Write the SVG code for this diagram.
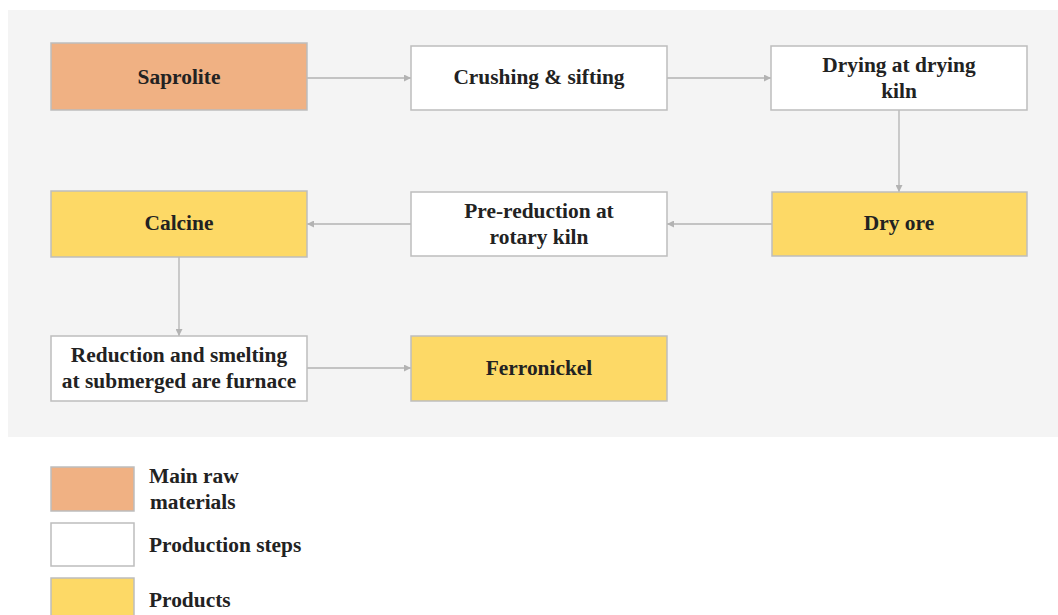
<svg xmlns="http://www.w3.org/2000/svg" width="1058" height="615" viewBox="0 0 1058 615">
<style>
.box{stroke:#bdbdbd;stroke-width:1.5}
.raw{fill:#f0b183}
.step{fill:#ffffff}
.prod{fill:#fdd966}
.t{font-family:"Liberation Serif","Times New Roman",serif;font-weight:bold;font-size:21.4px;fill:#222222;text-anchor:middle}
.lt{font-family:"Liberation Serif","Times New Roman",serif;font-weight:bold;font-size:21.4px;fill:#222222}
.c{stroke:#b3b3b3;stroke-width:1.3;fill:none;marker-end:url(#ah)}
</style>
<defs>
<marker id="ah" viewBox="0 0 10 10" refX="10" refY="5" markerWidth="7" markerHeight="7" markerUnits="userSpaceOnUse" orient="auto">
<path d="M0,0 L10,5 L0,10 z" fill="#b3b3b3"/>
</marker>
</defs>
<rect x="8" y="10" width="1050" height="427" fill="#f4f4f4"/>
<g id="connectors">
<line class="c" x1="307" y1="78" x2="411" y2="78"/>
<line class="c" x1="667" y1="78" x2="771" y2="78"/>
<line class="c" x1="899" y1="110" x2="899" y2="192"/>
<line class="c" x1="772" y1="224" x2="667" y2="224"/>
<line class="c" x1="411" y1="224" x2="307" y2="224"/>
<line class="c" x1="179" y1="257" x2="179" y2="336"/>
<line class="c" x1="307" y1="368" x2="411" y2="368"/>
</g>
<g id="saprolite"><rect class="box raw" x="51" y="43" width="256" height="67"/><text class="t" x="179" y="84">Saprolite</text></g>
<g id="crushing"><rect class="box step" x="411" y="46" width="256" height="64"/><text class="t" x="539" y="84">Crushing &amp; sifting</text></g>
<g id="drying"><rect class="box step" x="771" y="46" width="256" height="64"/><text class="t" x="899" y="72">Drying at drying</text><text class="t" x="899" y="98">kiln</text></g>
<g id="dryore"><rect class="box prod" x="772" y="192" width="255" height="64"/><text class="t" x="899" y="230">Dry ore</text></g>
<g id="prereduction"><rect class="box step" x="411" y="192" width="256" height="64"/><text class="t" x="539" y="218">Pre-reduction at</text><text class="t" x="539" y="244">rotary kiln</text></g>
<g id="calcine"><rect class="box prod" x="51" y="191" width="256" height="66"/><text class="t" x="179" y="230">Calcine</text></g>
<g id="reduction"><rect class="box step" x="51" y="336" width="256" height="65"/><text class="t" x="179" y="362">Reduction and smelting</text><text class="t" x="179" y="388">at submerged are furnace</text></g>
<g id="ferronickel"><rect class="box prod" x="411" y="336" width="256" height="65"/><text class="t" x="539" y="375">Ferronickel</text></g>
<g id="legend">
<rect class="box raw" x="51" y="467" width="83" height="44"/>
<text class="lt" x="149" y="483">Main raw</text><text class="lt" x="150" y="509">materials</text>
<rect class="box step" x="51" y="523" width="83" height="43"/>
<text class="lt" x="149" y="552">Production steps</text>
<rect class="box prod" x="51" y="578" width="83" height="45"/>
<text class="lt" x="149" y="607">Products</text>
</g>
</svg>
